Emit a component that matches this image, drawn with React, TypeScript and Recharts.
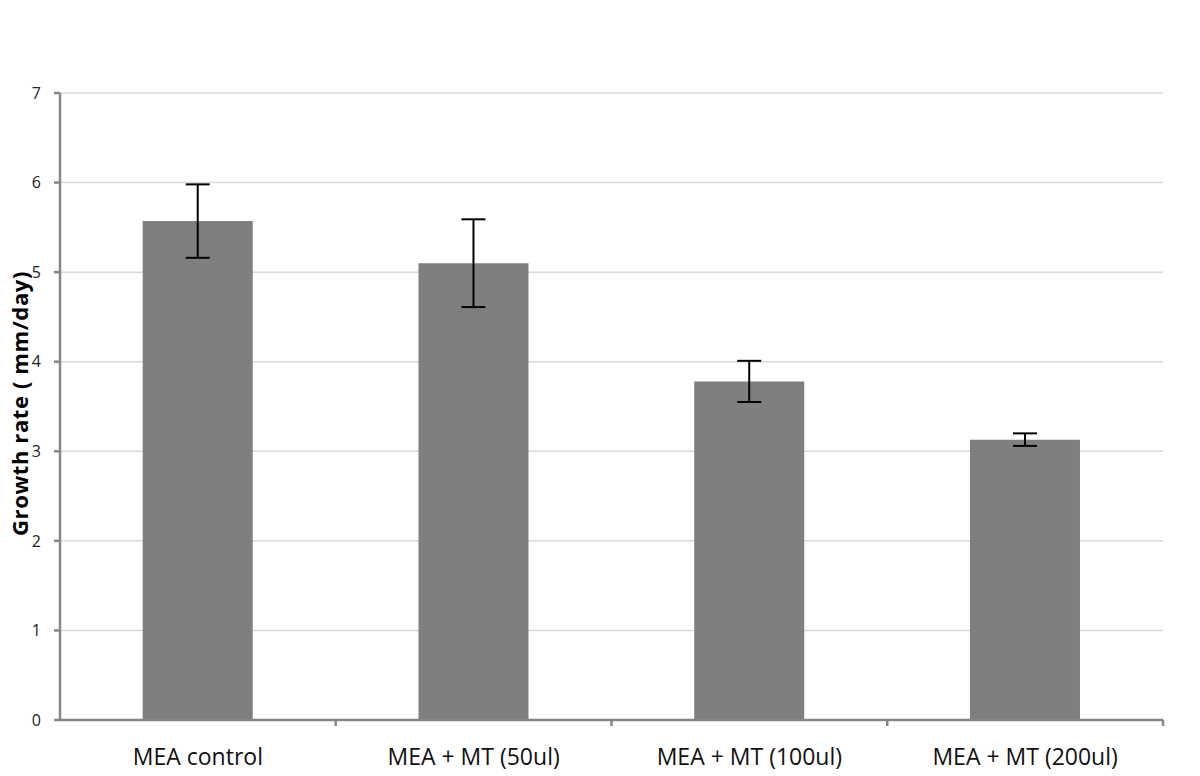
import React from 'react';
import { BarChart, Bar, XAxis, YAxis, CartesianGrid, ErrorBar, Label } from 'recharts';

const categories = ['MEA control', 'MEA + MT (50ul)', 'MEA + MT (100ul)', 'MEA + MT (200ul)'];
const growthRates = [5.57, 5.1, 3.78, 3.13];
const errorValues = [0.41, 0.49, 0.23, 0.07];
const yTicks = [0, 1, 2, 3, 4, 5, 6, 7];
const yAxisTitle = 'Growth rate ( mm/day)';

const data = categories.map((name, i) => ({ name, value: growthRates[i], err: errorValues[i] }));

const AXIS_COLOR = '#868686';
const X_TICK_SIZE = 6;
const X_TICK_MARGIN = 23;
const FONT = '"Open Sans", sans-serif';

const XTick = (props: any) => {
  const { x, y, payload } = props;
  const axisY = y - X_TICK_SIZE - X_TICK_MARGIN;
  const bx = x + (payload && payload.offset ? payload.offset : 0);
  return (
    <g>
      <line x1={bx} x2={bx} y1={axisY} y2={axisY + X_TICK_SIZE} stroke={AXIS_COLOR} strokeWidth={2.5} />
      <text x={x} y={y} dy="0.68em" textAnchor="middle" fontFamily={FONT} fontSize={23} fill="#111">
        {payload.value}
      </text>
    </g>
  );
};

const YTick = (props: any) => {
  const { x, y, payload } = props;
  return (
    <text x={x} y={y} dy="0.36em" textAnchor="end" fontFamily={FONT} fontSize={16} fill="#222">
      {payload.value}
    </text>
  );
};

const YTitle = (props: any) => {
  const vb = props.viewBox || { x: 0, y: 0, width: 60, height: 0 };
  const cx = vb.x + 28;
  const cy = vb.y + vb.height / 2 - 3;
  return (
    <text
      x={cx}
      y={cy}
      transform={`rotate(-90 ${cx} ${cy})`}
      textAnchor="middle"
      fontFamily={FONT}
      fontWeight="bold"
      fontSize={22}
      letterSpacing={0.6}
      fill="#000"
    >
      {yAxisTitle}
    </text>
  );
};

export default function App() {
  return (
    <div style={{ position: 'absolute', left: 0, top: 0, width: 1200, height: 776, background: '#fff' }}>
      <BarChart
        width={1200}
        height={776}
        data={data}
        margin={{ top: 93, right: 37, left: 0, bottom: 0 }}
        barCategoryGap="30%"
      >
        <CartesianGrid vertical={false} stroke="#d9d9d9" strokeWidth={1.5} />
        <XAxis
          dataKey="name"
          height={56}
          axisLine={{ stroke: AXIS_COLOR, strokeWidth: 2.5 }}
          tickLine={false}
          tickSize={X_TICK_SIZE}
          tickMargin={X_TICK_MARGIN}
          tick={<XTick />}
          interval={0}
        />
        <YAxis
          width={60}
          domain={[0, 7]}
          ticks={yTicks}
          interval={0}
          axisLine={{ stroke: AXIS_COLOR, strokeWidth: 2.5 }}
          tickLine={{ stroke: AXIS_COLOR, strokeWidth: 2.5 }}
          tickSize={6}
          tickMargin={13}
          tick={<YTick />}
        >
          <Label content={<YTitle />} />
        </YAxis>
        <Bar dataKey="value" fill="#7f7f7f" isAnimationActive={false}>
          <ErrorBar dataKey="err" width={12} stroke="#000" strokeWidth={2} direction="y" isAnimationActive={false} />
        </Bar>
      </BarChart>
    </div>
  );
}
